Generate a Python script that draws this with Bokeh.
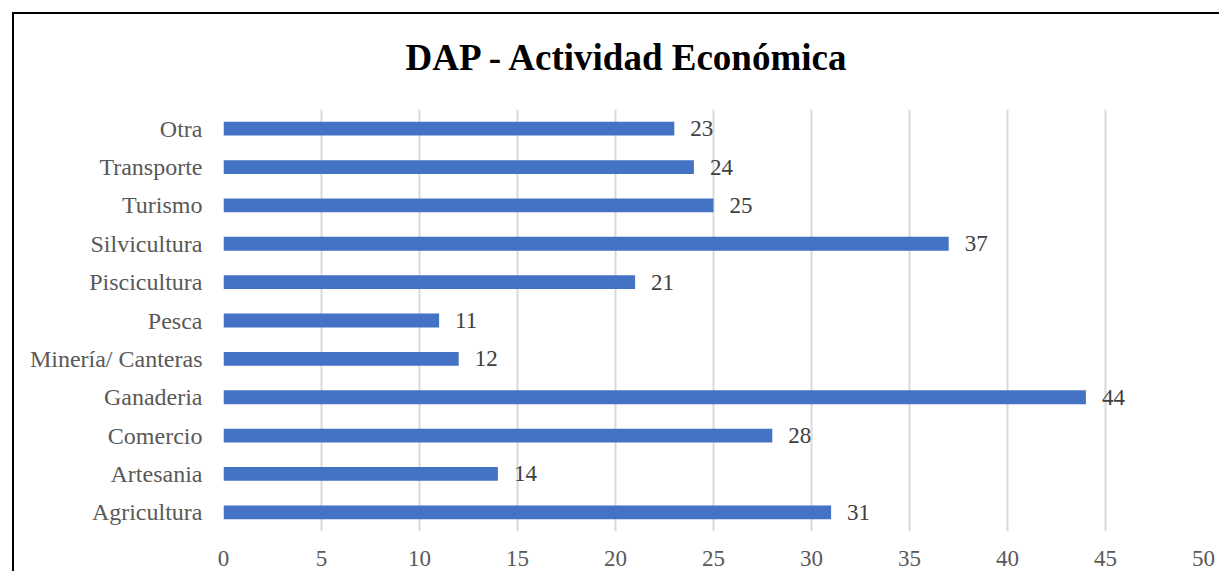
from bokeh.plotting import figure
from bokeh.models import ColumnDataSource, Range1d, FactorRange, FixedTicker, Title
from bokeh.embed import file_html
from bokeh.resources import INLINE
from bokeh.core.properties import value

categories = ["Agricultura", "Artesania", "Comercio", "Ganaderia", "Minería/ Canteras",
              "Pesca", "Piscicultura", "Silvicultura", "Turismo", "Transporte", "Otra"]
counts = [31, 14, 28, 44, 12, 11, 21, 37, 25, 24, 23]
x_ticks = [0, 5, 10, 15, 20, 25, 30, 35, 40, 45, 50]
title_text = "DAP - Actividad Económica"

FONT = "Liberation Serif"

src = ColumnDataSource(dict(cat=categories, val=counts, lbl=[str(v) for v in counts]))

p = figure(
    y_range=FactorRange(factors=categories, range_padding=0),
    x_range=Range1d(0, 50),
    frame_width=980, frame_height=422,
    min_border_left=209, min_border_right=16, min_border_top=95, min_border_bottom=40,
    output_backend="svg", toolbar_location=None,
)
p.styles = {"margin-left": "12px", "margin-top": "12px", "margin-bottom": "-8px",
            "border-left": "2px solid #000000", "border-top": "2px solid #000000",
            "border-right": "none", "border-bottom": "none"}

# empty spacer panel between the plot area and the title
p.add_layout(Title(text=" ", text_font_size="10px", standoff=19), "above")
p.add_layout(Title(text=title_text, text_font=FONT, text_font_size="37px",
                   text_font_style="bold", text_color="#000000",
                   align="left", offset=182, standoff=0), "above")

p.outline_line_color = None
p.background_fill_color = "white"
p.border_fill_color = "white"

p.hbar(y="cat", right="val", left=0, height=0.36, source=src,
       fill_color="#4472C4", line_color=None)

p.text(x="val", y="cat", text="lbl", source=src, x_offset=16,
       text_baseline="middle", text_align="left",
       text_font=value(FONT), text_font_size="23px", text_color="#404040")

p.xgrid.grid_line_color = "#D9D9D9"
p.xgrid.grid_line_width = 2
p.ygrid.grid_line_color = None

p.xaxis.ticker = FixedTicker(ticks=x_ticks)
p.xaxis.axis_line_color = None
p.xaxis.major_tick_line_color = None
p.xaxis.minor_tick_line_color = None
p.xaxis.major_label_text_font = FONT
p.xaxis.major_label_text_font_size = "23px"
p.xaxis.major_label_text_color = "#595959"
p.xaxis.major_label_standoff = 13

p.yaxis.axis_line_color = None
p.yaxis.major_tick_line_color = None
p.yaxis.minor_tick_line_color = None
p.yaxis.major_label_text_font = FONT
p.yaxis.major_label_text_font_size = "24px"
p.yaxis.major_label_text_color = "#595959"
p.yaxis.major_label_standoff = 15

open("out.html", "w").write(file_html(p, INLINE))
